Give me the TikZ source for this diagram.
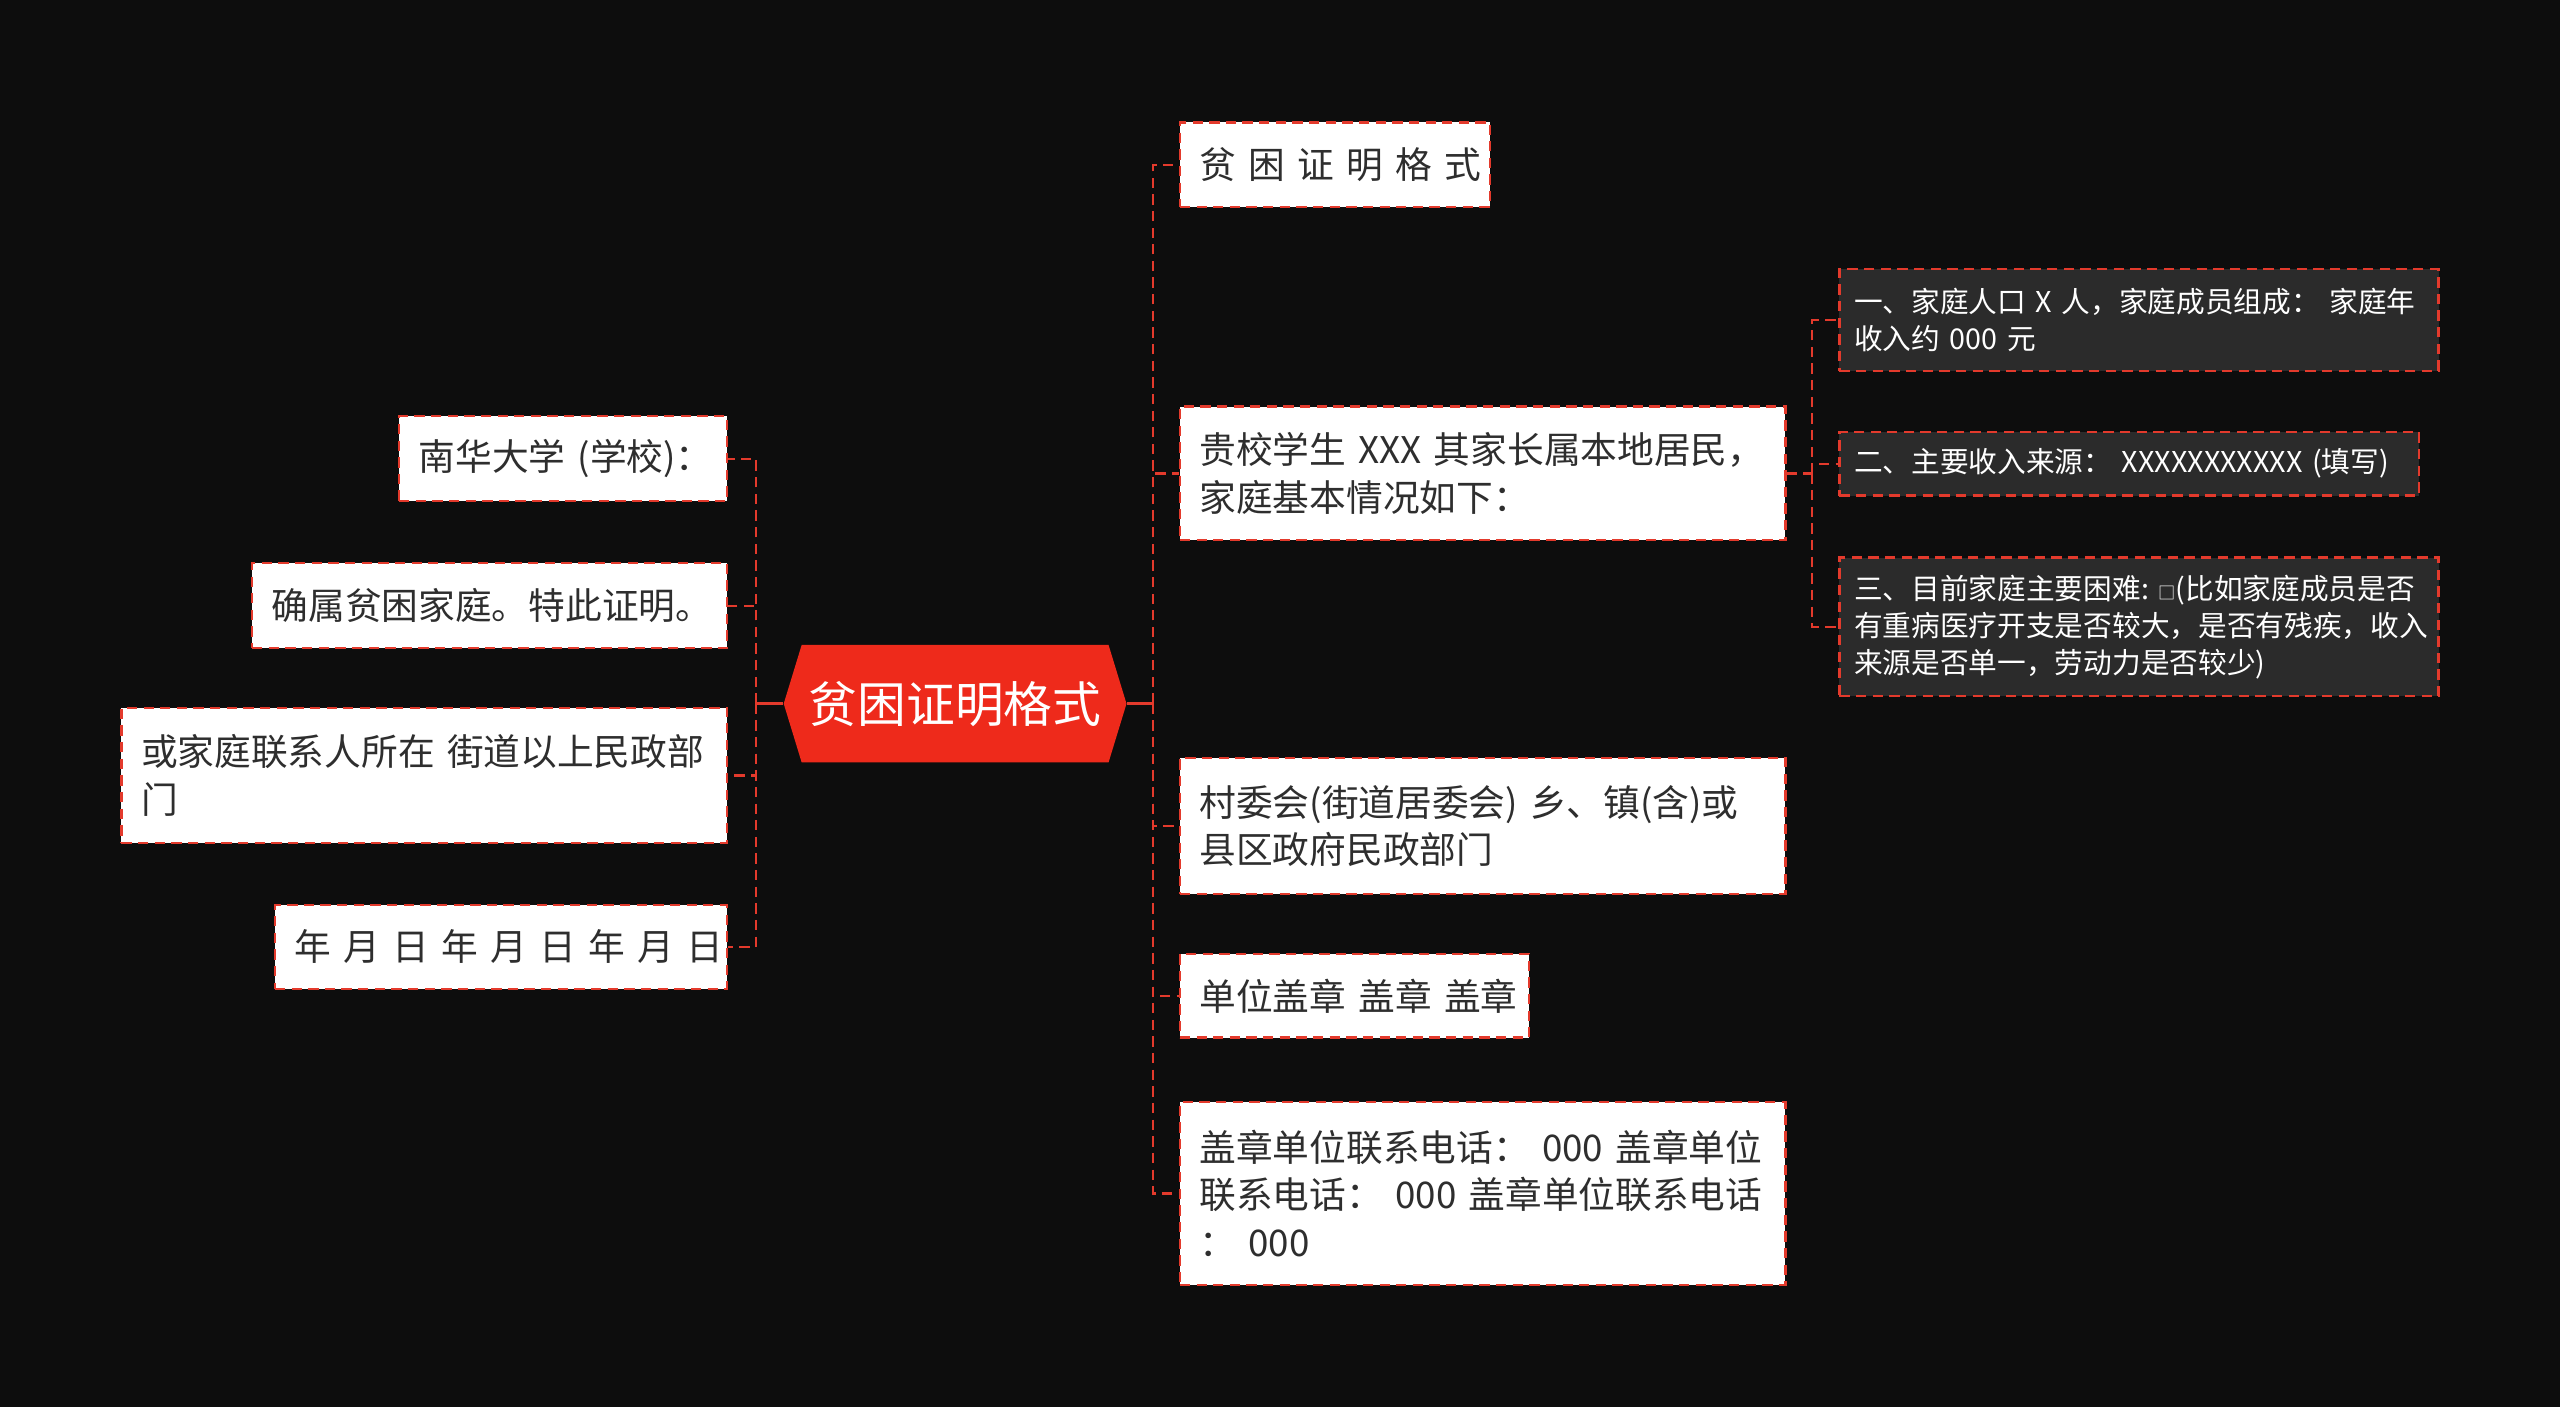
\documentclass[tikz,border=0pt]{standalone}
\usepackage{fontspec}
\setmainfont{Noto Sans CJK SC}
\usetikzlibrary{shapes.symbols}

\definecolor{bgdark}{HTML}{0D0D0D}
\definecolor{linered}{HTML}{E33A2C}
\definecolor{rootred}{HTML}{EE2A1B}
\definecolor{subgrey}{HTML}{2B2B2B}
\definecolor{textdark}{HTML}{2E2E2E}

\tikzset{
  topic/.style={draw=linered, line width=0.75pt, dash pattern=on 3.6pt off 2.2pt,
    fill=white, text=textdark, font=\fontsize{12.8}{16.5}\selectfont,
    align=left, inner xsep=0.24cm, inner ysep=0pt},
  subtopic/.style={topic, fill=subgrey, text=white,
    font=\fontsize{10}{13}\selectfont, inner xsep=0.18cm},
  rootnode/.style={signal, signal to=west and east, signal pointer angle=146,
    fill=rootred, text=white, font=\fontsize{17}{20}\selectfont,
    minimum width=4.2cm, minimum height=1.44cm, inner sep=0pt},
  link/.style={draw=linered, line width=0.8pt, dash pattern=on 3.6pt off 2.2pt},
  stub/.style={draw=linered, line width=0.9pt},
}

\begin{document}
\begin{tikzpicture}[x=0.02cm, y=-0.02cm]
  % background
  \fill[bgdark] (0,0) rectangle (1568,862);
  \useasboundingbox (0,0) rectangle (1568,862);

  % centre
  \node[rootnode] (root) at (585,431) {贫困证明格式};
  \coordinate (rootR) at (706,431);
  \coordinate (rootL) at (463,431);

  % right branch
  \node[topic, anchor=west, text width=3.32cm, minimum height=1.04cm] (r1) at (722,101)
    {贫~困~证~明~格~式};
  \node[topic, anchor=west, text width=6.94cm, minimum height=1.64cm] (r2) at (722,290)
    {贵校学生~XXX~其家长属本地居民，\\家庭基本情况如下：};
  \node[topic, anchor=west, text width=6.94cm, minimum height=1.66cm] (r3) at (722,506)
    {村委会(街道居委会)~乡、镇(含)或\\县区政府民政部门};
  \node[topic, anchor=west, text width=3.80cm, minimum height=1.02cm] (r4) at (722,610)
    {单位盖章~盖章~盖章};
  \node[topic, anchor=west, text width=6.94cm, minimum height=2.24cm] (r5) at (722,731)
    {盖章单位联系电话：~000~盖章单位\\联系电话：~000~盖章单位联系电话\\：~000};

  % details of r2
  \coordinate (r2R) at (1110,290);
  \node[subtopic, anchor=west, text width=6.98cm, minimum height=1.24cm] (s1) at (1126,196)
    {一、家庭人口~X~人，家庭成员组成：~家庭年\\收入约~000~元};
  \node[subtopic, anchor=west, text width=6.74cm, minimum height=0.78cm] (s2) at (1126,284)
    {二、主要收入来源：~XXXXXXXXXXX~(填写)};
  \node[subtopic, anchor=west, text width=6.98cm, minimum height=1.70cm] (s3) at (1126,384)
    {三、目前家庭主要困难:~{\fontsize{6}{6}\selectfont □}(比如家庭成员是否\\有重病医疗开支是否较大，是否有残疾，收入\\来源是否单一，劳动力是否较少)};

  % left branch
  \node[topic, anchor=east, text width=3.54cm, minimum height=1.04cm] (l1) at (446,281)
    {南华大学~(学校)：};
  \node[topic, anchor=east, text width=5.34cm, minimum height=1.04cm] (l2) at (446,371)
    {确属贫困家庭。特此证明。};
  \node[topic, anchor=east, text width=6.94cm, minimum height=1.66cm] (l3) at (446,475)
    {或家庭联系人所在~街道以上民政部\\门};
  \node[topic, anchor=east, text width=5.06cm, minimum height=1.02cm] (l4) at (446,580)
    {年~月~日~年~月~日~年~月~日};

  % connectors
  \draw[stub] (root.east) -- (rootR);
  \draw[stub] (root.west) -- (rootL);
  \foreach \n in {r1,r2,r3,r4,r5}
    \draw[link] (rootR) |- (\n.west);
  \foreach \n in {l1,l2,l3,l4}
    \draw[link] (rootL) |- (\n.east);
  \draw[link] (r2.east) -- (r2R);
  \foreach \n in {s1,s2,s3}
    \draw[link] (r2R) |- (\n.west);
\end{tikzpicture}
\end{document}
